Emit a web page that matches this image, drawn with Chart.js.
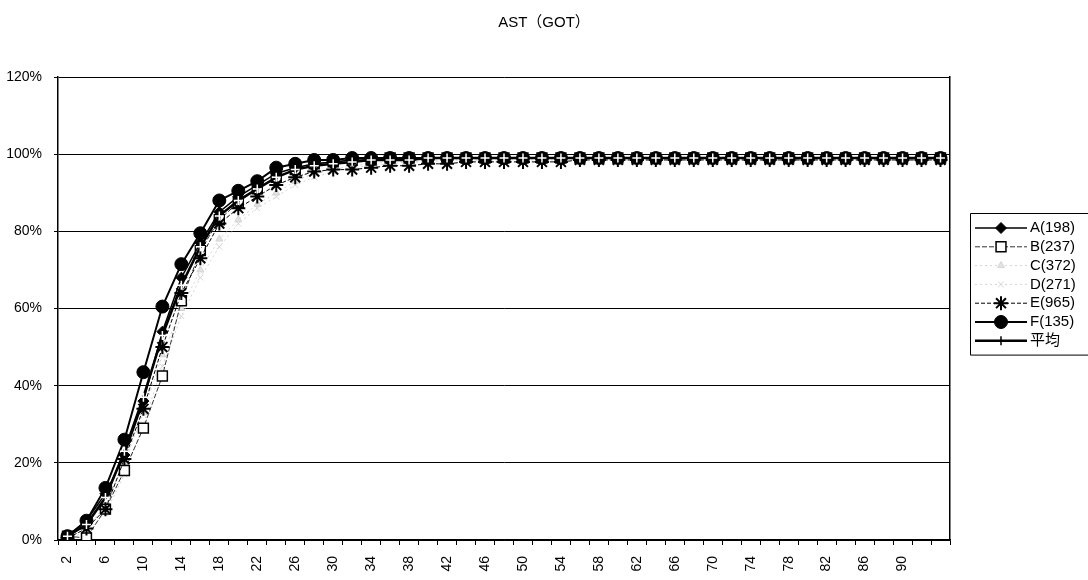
<!DOCTYPE html>
<html>
<head>
<meta charset="utf-8">
<script src="https://cdn.jsdelivr.net/npm/chart.js@4.4.0/dist/chart.umd.min.js"></script>
<style>
html,body{margin:0;padding:0;background:#fff;}
#wrap{width:1088px;height:580px;position:relative;}
</style>
</head>
<body>
<div id="wrap"><canvas id="c"></canvas></div>
<script>
// ---- data ----
const chartTitle = 'AST（GOT）';
const categories = [2,4,6,8,10,12,14,16,18,20,22,24,26,28,30,32,34,36,38,40,42,44,46,48,50,52,54,56,58,60,62,64,66,68,70,72,74,76,78,80,82,84,86,88,90,92,94];
const tickLabels = ['2','','6','','10','','14','','18','','22','','26','','30','','34','','38','','42','','46','','50','','54','','58','','62','','66','','70','','74','','78','','82','','86','','90','',''];
const yTicks = [0,20,40,60,80,100,120];
const seriesNames = ['A(198)','B(237)','C(372)','D(271)','E(965)','F(135)','平均'];

const seriesA = [1,5,12,22,36,54,68,77,85,89, 92,95,96.5,97.5,98,98.5,98.5,98.5,99,99, 99,99,99,99,99,99,99,99,99,99, 99,99,99,99,99,99,99,99,99,99, 99,99,99,99,99,99,99];
const seriesB = [1,0.5,8,18,29,42.5,62,75,83,87.5, 91,94,96,97.5,98,98.5,98.5,99,99,99, 99,99,99,99,99,99,99,99,99,99, 99,99,99,99,99,99,99,99,99,99, 99,99,99,99,99,99,99];
const seriesC = [0.5,3,9,20,33,48,60,70,78,83, 87,90,93,95,96,97,97.5,98,98,98.5, 98.5,98.5,98.5,99,99,99,99,99,99,99, 99,99,99,99,99,99,99,99,99,99, 99,99,99,99,99,99,99];
const seriesD = [0.5,2,7,17,30,45,58,68,76,82, 86,89,92,94,95.5,96.5,97,97.5,98,98, 98.5,98.5,98.5,98.5,98.5,98.5,98.5,98.5,98.5,98.5, 98.5,98.5,98.5,98.5,98.5,98.5,98.5,98.5,98.5,98.5, 98.5,98.5,98.5,98.5,98.5,98.5,98.5];
const seriesE = [0.5,3,8,21,34,50,64,73,82,86, 89,92,94,95.5,96,96,96.5,97,97,97.5, 97.5,98,98,98,98,98,98,98.5,98.5,98.5, 98.5,98.5,98.5,98.5,98.5,98.5,98.5,98.5,98.5,98.5, 98.5,98.5,98.5,98.5,98.5,98.5,98.5];
const seriesF = [1,5,13.5,26,43.5,60.5,71.5,79.5,88,90.5, 93,96.5,97.5,98.5,98.5,99,99,99,99,99, 99,99,99,99,99,99,99,99,99,99, 99,99,99,99,99,99,99,99,99,99, 99,99,99,99,99,99,99];
const seriesAvg = [1,4,11,23,37,53,66,76,84,88, 91,94,96,97,97.5,98,98.5,98.5,98.5,99, 99,99,99,99,99,99,99,99,99,99, 99,99,99,99,99,99,99,99,99,99, 99,99,99,99,99,99,99];

const FONT = "'Liberation Sans', Arial, 'Noto Sans CJK JP', sans-serif";

// ---- custom side legend (line + marker, like the original) ----
const sideLegend = {
  id: 'sideLegend',
  afterDraw(chart) {
    const {ctx, chartArea} = chart;
    const x0 = chartArea.right + 20;
    const y0 = chartArea.top + 136;
    const rowH = 18.8;
    const n = chart.data.datasets.length;
    ctx.save();
    ctx.strokeStyle = '#000';
    ctx.lineWidth = 1;
    ctx.setLineDash([]);
    ctx.beginPath();
    ctx.moveTo(chart.width, y0 + 0.5);
    ctx.lineTo(x0 + 0.5, y0 + 0.5);
    ctx.lineTo(x0 + 0.5, y0 + n * rowH + 10.5);
    ctx.lineTo(chart.width, y0 + n * rowH + 10.5);
    ctx.stroke();
    chart.data.datasets.forEach((ds, k) => {
      const cy = y0 + 15 + k * rowH;
      ctx.strokeStyle = ds.borderColor;
      ctx.lineWidth = ds.borderWidth;
      ctx.setLineDash(ds.borderDash || []);
      ctx.beginPath();
      ctx.moveTo(x0 + 5, cy);
      ctx.lineTo(x0 + 57, cy);
      ctx.stroke();
      ctx.setLineDash([]);
      if (ds.pointRadius > 0) {
        ctx.fillStyle = ds.pointBackgroundColor;
        ctx.strokeStyle = ds.legendPointColor || ds.pointBorderColor;
        ctx.lineWidth = ds.pointBorderWidth;
        Chart.helpers.drawPoint(ctx, {pointStyle: ds.pointStyle, radius: ds.pointRadius, borderWidth: ds.pointBorderWidth, rotation: 0}, x0 + 31, cy);
      }
      ctx.fillStyle = '#000';
      ctx.font = '15px ' + FONT;
      ctx.textAlign = 'left';
      ctx.textBaseline = 'middle';
      ctx.fillText(ds.label, x0 + 60, cy);
    });
    ctx.restore();
  }
};

function ds(label, data, o) {
  return Object.assign({
    label: label, data: data, yAxisID: 'y',
    borderColor: '#000', borderWidth: 1.5, backgroundColor: '#000',
    pointBackgroundColor: '#000', pointBorderColor: '#000', pointBorderWidth: 1,
    pointRadius: 4, pointStyle: 'circle', tension: 0, fill: false
  }, o);
}

new Chart(document.getElementById('c'), {
  type: 'line',
  data: {
    labels: categories.map(String),
    datasets: [
      ds(seriesNames[0], seriesA, {pointStyle: 'rectRot', pointRadius: 5.5, borderWidth: 1.5, order: 3}),
      ds(seriesNames[1], seriesB, {pointStyle: 'rect', pointRadius: 7, borderWidth: 1, borderDash: [5, 2], borderColor: '#333', pointBackgroundColor: '#fff', pointBorderColor: '#000', pointBorderWidth: 1.5, order: 4}),
      ds(seriesNames[2], seriesC, {pointStyle: 'triangle', pointRadius: 4, borderWidth: 1, borderDash: [2, 3], borderColor: '#d4d4d4', pointBackgroundColor: '#e2e2e2', pointBorderColor: '#d4d4d4', order: 5}),
      ds(seriesNames[3], seriesD, {pointStyle: 'crossRot', pointRadius: 4, borderWidth: 1, borderDash: [2, 3], borderColor: '#d4d4d4', pointBackgroundColor: '#e2e2e2', pointBorderColor: '#d4d4d4', order: 6}),
      ds(seriesNames[4], seriesE, {pointStyle: 'star', pointRadius: 7, borderWidth: 1, borderDash: [4, 2], pointBorderWidth: 2, order: 1}),
      ds(seriesNames[5], seriesF, {pointStyle: 'circle', pointRadius: 6.5, borderWidth: 2, order: 2}),
      ds(seriesNames[6], seriesAvg, {pointStyle: 'cross', pointRadius: 4.5, borderWidth: 2.5, pointBorderColor: '#fff', legendPointColor: '#000', pointBorderWidth: 1.5, order: 0})
    ]
  },
  options: {
    responsive: true,
    maintainAspectRatio: false,
    animation: false,
    layout: {padding: {left: 0, right: 0, top: 0, bottom: 0}},
    plugins: {
      legend: {display: false},
      tooltip: {enabled: false},
      title: {
        display: true, text: chartTitle, color: '#000',
        font: {family: FONT, size: 15, weight: 'normal'},
        padding: {top: 14, bottom: 45}
      }
    },
    scales: {
      x: {
        type: 'category',
        offset: true,
        grid: {offset: true, drawOnChartArea: false, drawTicks: true, tickLength: 5, color: '#000'},
        border: {color: '#000', width: 1.5},
        afterFit: (axis) => { axis.height = 40; },
        ticks: {
          autoSkip: false, maxRotation: 90, minRotation: 90, padding: 11,
          color: '#000', font: {family: FONT, size: 14},
          callback: (v, i) => tickLabels[i]
        }
      },
      y: {
        position: 'left',
        min: 0, max: 120,
        afterBuildTicks: (axis) => { axis.ticks = yTicks.map(v => ({value: v})); },
        afterFit: (axis) => { axis.width = 58; },
        grid: {color: '#000', lineWidth: 1, drawTicks: true, tickLength: 4},
        border: {color: '#000', width: 1.5},
        ticks: {padding: 12, color: '#000', font: {family: FONT, size: 14}, callback: (v) => v + '%'}
      },
      y2: {
        position: 'right',
        min: 0, max: 120,
        afterFit: (axis) => { axis.width = 138; },
        grid: {drawOnChartArea: false, drawTicks: false},
        border: {color: '#000', width: 1.5},
        ticks: {display: false}
      }
    }
  },
  plugins: [sideLegend]
});
</script>
</body>
</html>
